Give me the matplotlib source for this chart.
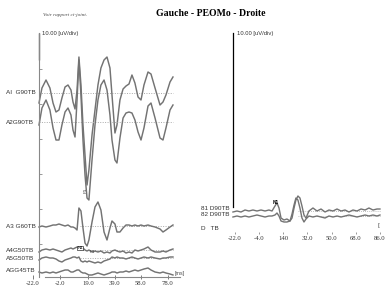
import numpy as np
import matplotlib.pyplot as plt

# time axis (ms) of the left (Gauche) panel traces
t_left = [-17.3, -15.1, -12.1, -9.2, -6.9, -4.7, -2.5, -0.3, 2.0, 4.2,
          6.4, 7.9, 9.4, 10.9, 12.3, 13.8, 15.3, 16.8, 18.3, 19.7,
          22.0, 24.2, 26.4, 28.6, 30.9, 33.1, 35.3, 36.8, 39.0, 40.5,
          42.7, 45.0, 47.2, 49.4, 51.6, 53.8, 56.1, 58.3, 60.5, 63.5,
          65.7, 68.7, 72.4, 74.6, 76.8, 79.8, 82.0]

# amplitudes (uV) around each baseline
a1_g90 = [-3.0, 1.5, 3.9, 1.5, -3.0, -5.7, -5.1, -1.5, 1.8, 2.4,
          0.9, -2.7, -4.8, 0.9, 10.8, 2.4, -9.6, -18.6, -27.6, -23.1,
          -12.6, -5.1, 2.4, 7.5, 9.9, 10.8, 7.5, -0.6, -12.0, -9.6,
          -2.1, 1.2, 2.1, 2.7, 5.4, 3.0, -1.2, -2.1, 2.4, 6.3,
          5.7, 1.5, -3.6, -2.7, -0.6, 3.3, 4.8]
a2_g90 = [-0.9, 4.2, 6.6, 3.6, -1.8, -5.4, -5.4, -0.9, 3.0, 4.2,
          2.1, -2.4, -4.5, 6.6, 18.6, 8.1, -5.4, -15.9, -22.8, -23.4,
          -11.4, -0.9, 6.6, 11.1, 12.6, 9.6, 2.1, -5.4, -11.4, -12.3,
          -4.8, 1.2, 2.7, 3.0, 2.7, 0.6, -3.0, -5.4, -1.8, 4.8,
          5.7, 1.2, -4.8, -5.4, -1.8, 3.6, 5.1]
a3_g60 = [-0.3, 0.0, -0.3, 0.0, 0.3, 0.3, 0.6, 0.3, 0.0, 0.3,
          -0.3, -0.3, -0.6, -1.2, 5.4, 4.5, -0.6, -5.1, -6.0, -4.2,
          1.2, 5.7, 7.2, 4.8, -1.8, -4.2, -0.6, 1.5, 0.6, -1.8,
          -1.8, -0.6, 0.3, 0.3, 0.0, 0.3, 0.0, 0.3, 0.0, 0.3,
          0.0, -0.3, -0.9, -1.8, -1.2, -0.3, 0.3]
a4_g50 = [-0.6, 0.0, 0.3, 0.0, 0.3, 0.0, -0.3, -0.6, 0.0, 0.3,
          0.6, 0.3, 0.6, 0.9, 0.6, 0.3, 0.6, 0.0, -0.3, 0.0,
          -0.6, -0.3, -0.6, -0.3, -0.9, -0.6, -0.9, -0.3, 0.0, -0.3,
          -0.6, -0.3, -0.9, -0.6, -0.9, 0.0, -0.3, 0.0, 0.3, 0.9,
          0.0, -0.6, -0.6, -0.3, -0.6, 0.0, 0.3]
a5_g50 = [-0.6, 0.0, 0.3, 0.0, 0.0, -0.3, -0.9, -1.2, -0.6, -0.3,
          0.0, 0.3, 0.3, 0.0, 0.3, -0.9, -1.2, -0.9, -1.2, -0.9,
          -1.2, -1.5, -1.2, -1.5, -0.9, -0.6, -0.3, 0.3, 0.0, 0.3,
          0.0, 0.0, -0.3, 0.0, 0.3, 0.0, -0.3, 0.0, 0.3, 0.0,
          0.3, 0.0, -0.3, 0.0, 0.0, 0.3, 0.3]
a6_g45 = [-0.6, -0.9, -0.6, -0.9, -0.6, -0.9, -0.6, -0.3, 0.0, 0.0,
          -0.6, -0.6, -0.3, 0.0, 0.0, -0.6, -0.9, -0.9, -1.2, -1.5,
          -1.5, -1.2, -0.9, -1.2, -1.5, -1.2, -0.9, -0.6, -0.6, -0.9,
          -0.6, -0.6, -0.3, -0.6, -0.3, 0.0, -0.3, 0.0, 0.3, 0.6,
          0.0, -0.6, -0.9, -0.6, -0.9, -1.2, -1.5]

# right (Droite) panel
t_right = [-23.5, -20.5, -17.5, -14.5, -11.6, -8.6, -5.6, -2.6, 0.4, 3.3,
           5.6, 7.8, 9.3, 10.8, 12.3, 14.5, 16.7, 19.0, 20.5, 22.0,
           23.4, 24.9, 26.4, 27.9, 29.4, 30.9, 33.1, 36.1, 39.1, 42.1,
           45.1, 48.0, 51.0, 54.0, 57.0, 60.0, 62.9, 65.9, 68.9, 71.9,
           74.9, 77.8, 80.8, 83.8, 86.0]
b1_d90 = [-0.3, 0.0, -0.3, 0.3, 0.0, 0.3, 0.0, 0.3, 0.0, 0.3,
          0.0, 1.5, 2.4, 0.9, -2.1, -2.7, -2.4, -3.0, -2.1, 0.9,
          3.3, 4.5, 3.9, 1.5, -1.2, -2.1, 0.0, 0.9, 0.0, 0.6,
          -0.3, 0.3, 0.0, 0.6, 0.0, 0.3, -0.3, 0.3, 0.0, 0.6,
          0.3, 0.9, 0.3, 0.6, 0.6]
b2_d90 = [-0.3, 0.0, -0.3, 0.0, -0.3, 0.0, 0.3, 0.0, -0.3, 0.0,
          0.0, 0.3, 0.9, 0.0, -1.5, -1.8, -1.8, -1.5, 0.6, 3.3,
          5.4, 4.8, 2.4, -0.6, -1.8, -0.9, 0.0, -0.3, 0.0, -0.3,
          -0.6, 0.0, -0.3, 0.0, -0.3, 0.0, 0.3, 0.0, -0.3, 0.0,
          0.3, 0.0, 0.3, 0.0, 0.3]

left_names = ['AI  G90TB', 'A2G90TB', 'A3 G60TB', 'A4G50TB', 'A5G50TB', 'AGG45TB']
right_names = ['81 D90TB', '82 D90TB', 'D   TB']
left_ticks = [-22.0, -2.0, 19.0, 39.0, 58.0, 78.0]
right_ticks = [-22.0, -4.0, 14.0, 32.0, 50.0, 68.0, 86.0]
right_ticklabels = ['-22.0', '-4.0', '140', '32.0', '50.0', '68.0', '86.0']

# layout: vertical offsets of each trace (uV, page top = 0)
left_offsets = [-27.9, -36.6, -67.8, -75.0, -77.4, -81.0]
right_offsets = [-63.3, -64.8]

W, H = 385, 291
TRACE = '#737373'
DOT = '#aaaaaa'


def fpos(x, y):
    return x / W, 1 - y / H


fig = plt.figure(figsize=(W / 100, H / 100), dpi=100)
axL = fig.add_axes([0, 0, 192 / W, 1])
axR = fig.add_axes([192 / W, 0, 1 - 192 / W, 1])
axL.set_xlim(-46.2, 96.1)
axR.set_xlim(-54.0, 89.75)
for ax in (axL, axR):
    ax.set_ylim(-87.3, 0)
    ax.patch.set_alpha(0)
    ax.spines['top'].set_visible(False)
    ax.spines['right'].set_visible(False)

# left traces
left_data = [a1_g90, a2_g90, a3_g60, a4_g50, a5_g50, a6_g45]
for i, (vals, off) in enumerate(zip(left_data, left_offsets)):
    if i < 2:
        axL.hlines(off, -17.0, 82.0, colors=DOT, linestyles=(0, (1, 1.5)), lw=0.7)
    elif i < 5:
        axL.hlines(off, 13.0, 82.0, colors=DOT, linestyles=(0, (1, 1.5)), lw=0.7)
    axL.plot(t_left, np.array(vals) + off, color=TRACE, lw=1.05)

for vals, off in zip([b1_d90, b2_d90], right_offsets):
    axR.hlines(off, 25.0, 86.0, colors=DOT, linestyles=(0, (1, 1.5)), lw=0.6)
    axR.plot(t_right, np.array(vals) + off, color=TRACE, lw=1.0)

# left axes
axL.spines['left'].set_position(('data', -17.3))
axL.spines['left'].set_bounds(-83.1, -9.9)
axL.spines['left'].set_color('#888888')
axL.vlines(-17.3, -18.0, -9.9, colors='black', lw=0.9)
axL.spines['bottom'].set_position(('data', -83.1))
axL.spines['bottom'].set_bounds(-12.9, 87.0)
axL.spines['bottom'].set_color('#888888')
axL.set_xticks(left_ticks, [f'{v:.1f}' for v in left_ticks])
axL.set_yticks(np.arange(6) * 10.5 - 73.2, [])
axL.tick_params(axis='x', direction='inout', length=2.5, width=0.6, pad=1.5,
                color='#666666', labelsize=4.8, labelcolor='#333333')
axL.tick_params(axis='y', direction='in', length=2, width=0.6, color='#888888')
for lb in axL.get_xticklabels():
    lb.set_family('Liberation Serif')

# right axes
axR.spines['left'].set_position(('data', -23.5))
axR.spines['left'].set_bounds(-62.1, -9.9)
axR.spines['left'].set_color('black')
axR.spines['left'].set_linewidth(0.9)
axR.spines['bottom'].set_position(('data', -69.9))
axR.spines['bottom'].set_color('none')
axR.set_xticks(right_ticks, right_ticklabels)
axR.set_yticks([])
axR.tick_params(axis='x', direction='inout', length=2, width=0.6, pad=1.5,
                color='#888888', labelsize=4.8, labelcolor='#333333')
for lb in axR.get_xticklabels():
    lb.set_family('Liberation Serif')

# texts
fig.text(*fpos(211, 13), 'Gauche - PEOMo - Droite', ha='center', va='center',
         family='Liberation Serif', weight='bold', fontsize=7)
fig.text(*fpos(43, 15), 'Voir rapport ci-joint.', ha='left', va='center',
         family='Liberation Serif', style='italic', fontsize=3.8, color='#444444')
fig.text(*fpos(42, 33), '10.00 [uV/div)', ha='left', va='center',
         family='Liberation Sans', fontsize=4.2, color='#333333')
fig.text(*fpos(237, 33), '10.00 [uV/div)', ha='left', va='center',
         family='Liberation Sans', fontsize=4.2, color='#333333')

left_label_y = [93, 122, 226, 250, 258, 271]
for name, y in zip(left_names, left_label_y):
    fig.text(*fpos(6, y), name, ha='left', va='center', family='Liberation Sans',
             fontsize=4.6, color='#333333')
right_label_y = [209, 214, 228]
for name, y in zip(right_names, right_label_y):
    fig.text(*fpos(201, y), name, ha='left', va='center', family='Liberation Sans',
             fontsize=4.6, color='#333333')

fig.text(*fpos(175, 273), '[ms]', ha='left', va='center', family='Liberation Sans',
         fontsize=3.8, color='#444444')
fig.text(*fpos(377, 226), '[', ha='left', va='center', family='Liberation Sans',
         fontsize=4.5, color='#444444')
fig.text(*fpos(80, 248), 'N1', ha='center', va='center', family='Liberation Sans',
         fontsize=3.2, color='black',
         bbox=dict(boxstyle='square,pad=0.1', fc='white', ec='black', lw=0.4))
fig.text(*fpos(92, 252), 'P1', ha='center', va='center', family='Liberation Sans',
         fontsize=3.2, color='#444444')
fig.text(*fpos(86, 190), 'P1', ha='center', va='center', family='Liberation Sans',
         fontsize=3.2, color='#444444', rotation=90)
fig.text(*fpos(276, 203), 'N1', ha='center', va='center', family='Liberation Sans',
         fontsize=3.4, weight='bold', color='black')

fig.savefig('out.png', dpi=100)
